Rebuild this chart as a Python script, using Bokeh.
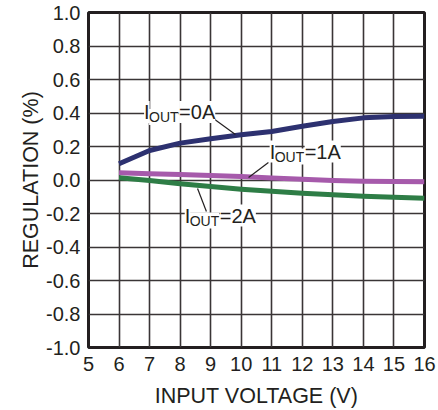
from bokeh.plotting import figure
from bokeh.models import FixedTicker, Range1d, Label, PrintfTickFormatter
from bokeh.embed import file_html
from bokeh.resources import INLINE

# ---- data ----
input_voltage = [6, 7, 8, 9, 10, 11, 12, 13, 14, 15, 16]
reg_iout_0a = [0.097, 0.176, 0.220, 0.246, 0.270, 0.290, 0.321, 0.349, 0.371, 0.379, 0.381]
reg_iout_1a = [0.043, 0.038, 0.033, 0.027, 0.021, 0.012, 0.004, -0.003, -0.007, -0.009, -0.011]
reg_iout_2a = [0.013, -0.003, -0.023, -0.039, -0.055, -0.067, -0.079, -0.088, -0.097, -0.103, -0.109]

x_ticks = [5, 6, 7, 8, 9, 10, 11, 12, 13, 14, 15, 16]
y_ticks = [-1.0, -0.8, -0.6, -0.4, -0.2, 0.0, 0.2, 0.4, 0.6, 0.8, 1.0]

series_labels = ["=0A", "=1A", "=2A"]

FONT = "Liberation Sans"
TXT = "#231f20"

p = figure(width=438, height=410, output_backend="svg", toolbar_location=None,
           x_range=Range1d(5, 16), y_range=Range1d(-1, 1),
           min_border_left=88, min_border_right=14, min_border_top=12, min_border_bottom=63)

p.background_fill_color = "white"
p.border_fill_color = "white"
p.outline_line_color = "#231f20"
p.outline_line_width = 3

for ax in (p.xaxis[0], p.yaxis[0]):
    ax.axis_line_color = None
    ax.major_tick_line_color = None
    ax.minor_tick_line_color = None
    ax.major_label_text_font = FONT
    ax.major_label_text_font_size = "20px"
    ax.major_label_text_color = TXT
    ax.axis_label_text_font = FONT
    ax.axis_label_text_font_size = "21.5px"
    ax.axis_label_text_font_style = "normal"
    ax.axis_label_text_color = TXT

p.xaxis.ticker = FixedTicker(ticks=x_ticks)
p.yaxis.ticker = FixedTicker(ticks=y_ticks)
p.yaxis.formatter = PrintfTickFormatter(format="%.1f")
p.xaxis.major_label_standoff = 3
p.yaxis.major_label_standoff = 2
p.xaxis.axis_label = "INPUT VOLTAGE (V)"
p.yaxis.axis_label = "REGULATION (%)"
p.xaxis.axis_label_standoff = 10
p.yaxis.axis_label_standoff = 0

p.xgrid.ticker = FixedTicker(ticks=x_ticks)
p.ygrid.ticker = FixedTicker(ticks=y_ticks)
for g in (p.xgrid[0], p.ygrid[0]):
    g.grid_line_color = "#3a3536"
    g.grid_line_width = 1.6

colors = ["#2d3170", "#a65aab", "#2e7d46"]
for ys, c in zip([reg_iout_0a, reg_iout_1a, reg_iout_2a], colors):
    p.line(input_voltage, ys, line_color=c, line_width=5, line_cap="butt", line_join="round")

# annotation anchors (label left/baseline, leader line ends)
annots = [
    dict(x=6.82, y=0.406, lx=[9.09, 9.81], ly=[0.367, 0.272]),
    dict(x=10.93, y=0.170, lx=[10.89, 10.24], ly=[0.104, 0.015]),
    dict(x=8.15, y=-0.212, lx=[8.57, 8.86], ly=[-0.051, -0.188]),
]

for a, lab in zip(annots, series_labels):
    p.line(a["lx"], a["ly"], line_color="#231f20", line_width=1.2)
    common = dict(text_font=FONT, text_color=TXT, background_fill_color="white",
                  text_baseline="alphabetic", text_align="left")
    p.add_layout(Label(x=a["x"], y=a["y"], text="I", text_font_size="20px", **common))
    p.add_layout(Label(x=a["x"], y=a["y"], x_offset=5, y_offset=-5, text="OUT",
                       text_font_size="14px", **common))
    p.add_layout(Label(x=a["x"], y=a["y"], x_offset=35, text=lab,
                       text_font_size="20px", **common))

open("out.html", "w").write(file_html(p, INLINE))
